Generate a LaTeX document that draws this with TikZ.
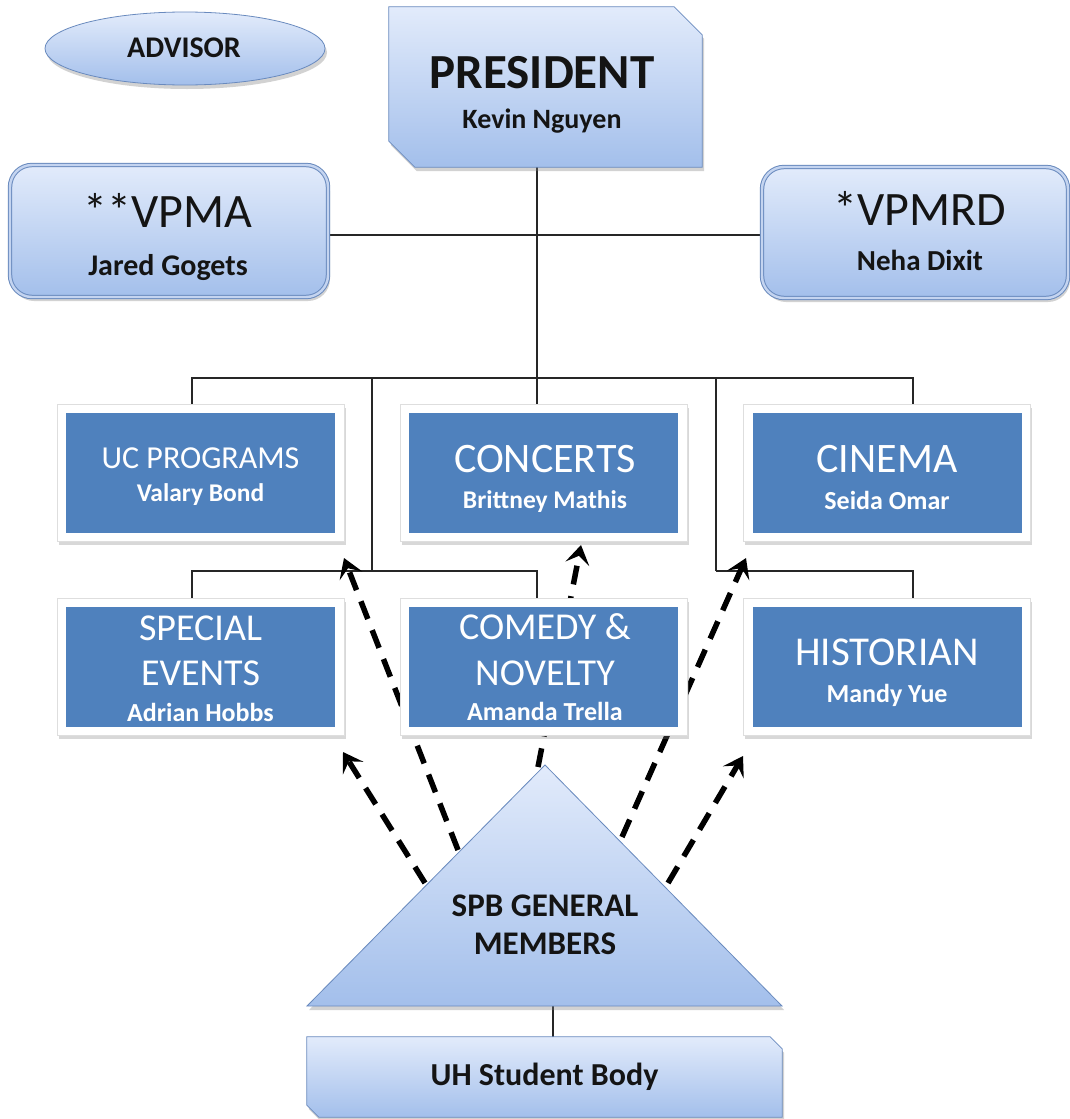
\documentclass[tikz,border=0pt]{standalone}
\usepackage{fontspec}
\setmainfont{Carlito}
\usetikzlibrary{shapes.geometric,shadows,arrows.meta}
\pgfdeclarelayer{bgfill}
\pgfdeclarelayer{lines}
\pgfsetlayers{bgfill,lines,main}
\newcommand\myfs[1]{\fontsize{#1}{#1}\selectfont}
\definecolor{edgeblue}{RGB}{105,138,190}
\definecolor{lighttop}{RGB}{226,235,251}
\definecolor{lightbot}{RGB}{163,191,235}
\definecolor{boxblue}{RGB}{79,129,189}
\definecolor{darktext}{RGB}{20,20,20}
\definecolor{framegray}{RGB}{222,222,222}
\definecolor{dblblue}{RGB}{196,212,240}
\begin{document}
\begin{tikzpicture}[x=1pt,y=-1pt,
  lightfill/.style={draw=edgeblue, line width=0.8pt, top color=lighttop, bottom color=lightbot,
    drop shadow={shadow xshift=2pt,shadow yshift=-4pt,opacity=0.35}},
  vpbox/.style={rectangle, rounded corners=22pt, draw=edgeblue, line width=1pt, double=dblblue, double distance=2.4pt,
    top color=lighttop, bottom color=lightbot, inner sep=0pt,
    drop shadow={shadow xshift=2pt,shadow yshift=-4pt,opacity=0.35}},
  ghost/.style={rectangle, inner sep=0pt},
  frame/.style={rectangle, fill=white, draw=framegray, line width=0.6pt, inner sep=0pt,
    minimum width=287pt, minimum height=137pt,
    drop shadow={shadow xshift=1.5pt,shadow yshift=-3pt,opacity=0.3}},
  bluebox/.style={rectangle, fill=boxblue, inner sep=0pt, minimum width=269pt, minimum height=120pt},
  dtxt/.style={anchor=base, inner sep=0pt, text=darktext},
  wtxt/.style={anchor=base, inner sep=0pt, text=white},
  conn/.style={draw=black!85, line width=1.1pt},
  darrow/.style={line width=5.5pt, dash pattern=on 19pt off 12pt,
    -{Stealth[length=19pt,width=24pt,inset=8pt]}},
]
\begin{pgfonlayer}{bgfill}
\fill[white] (0,0) rectangle (1070,1119);
\end{pgfonlayer}
\useasboundingbox (0,0) rectangle (1070,1119);

% ADVISOR
\node[ellipse, draw=edgeblue, line width=0.8pt, top color=lighttop, bottom color=lightbot,
  minimum width=280pt, minimum height=73pt, inner sep=0pt,
  drop shadow={shadow xshift=2pt,shadow yshift=-4pt,opacity=0.35}] (adv) at (185,48.5) {};
\node[dtxt, font=\myfs{30}\bfseries] (advT) at (184,57) {ADVISOR};

% PRESIDENT
\node[ghost, minimum width=313pt, minimum height=160pt] (pres) at (545.5,87) {};
\path[lightfill] (pres.north west) -- ([xshift=-28pt]pres.north east) -- ([yshift=-28pt]pres.north east)
  -- (pres.south east) -- ([xshift=26pt]pres.south west) -- ([yshift=26pt]pres.south west) -- cycle;
\node[dtxt, font=\myfs{49}\bfseries] (presT) at (542,88) {PRESIDENT};
\node[dtxt, font=\myfs{28}\bfseries] (presN) at (542,128) {Kevin Nguyen};

% VPs
\node[vpbox, minimum width=318pt, minimum height=132pt] (vpma) at (169,231) {};
\node[dtxt, font=\myfs{48}] (vpmaT) at (168,227) {**VPMA};
\node[dtxt, font=\myfs{30}\bfseries] (vpmaN) at (168,275) {Jared Gogets};
\node[vpbox, minimum width=306pt, minimum height=131pt] (vpmrd) at (915,232.5) {};
\node[dtxt, font=\myfs{48}] (vpmrdT) at (920,225) {*VPMRD};
\node[dtxt, font=\myfs{29}\bfseries] (vpmrdN) at (920,270) {Neha Dixit};

% Committee boxes
\node[frame] (ucp) at (200.5,473) {};
\node[bluebox] (ucpIn) at (ucp.center) {};
\node[wtxt, font=\myfs{32}] (ucpT) at (200.5,468) {UC PROGRAMS};
\node[wtxt, font=\myfs{25.5}\bfseries] (ucpN) at (200.5,501) {Valary Bond};

\node[frame] (conc) at (543.5,473) {};
\node[bluebox] (concIn) at (conc.center) {};
\node[wtxt, font=\myfs{42}] (concT) at (545,472) {CONCERTS};
\node[wtxt, font=\myfs{25.5}\bfseries] (concN) at (545,508) {Brittney Mathis};

\node[frame] (cin) at (887,473) {};
\node[bluebox] (cinIn) at (cin.center) {};
\node[wtxt, font=\myfs{42}] (cinT) at (887,472) {CINEMA};
\node[wtxt, font=\myfs{26}\bfseries] (cinN) at (887,509) {Seida Omar};

\node[frame] (spe) at (200.5,667) {};
\node[bluebox] (speIn) at (spe.center) {};
\node[wtxt, font=\myfs{38}] (speT1) at (200.5,640) {SPECIAL};
\node[wtxt, font=\myfs{38}] (speT2) at (200.5,685) {EVENTS};
\node[wtxt, font=\myfs{26}\bfseries] (speN) at (200.5,721) {Adrian Hobbs};

\node[frame] (com) at (543.5,667) {};
\node[bluebox] (comIn) at (com.center) {};
\node[wtxt, font=\myfs{38}] (comT1) at (545,639) {COMEDY \&};
\node[wtxt, font=\myfs{38}] (comT2) at (545,685) {NOVELTY};
\node[wtxt, font=\myfs{26}\bfseries] (comN) at (545,720) {Amanda Trella};

\node[frame] (his) at (887,667) {};
\node[bluebox] (hisIn) at (his.center) {};
\node[wtxt, font=\myfs{41}] (hisT) at (887,665) {HISTORIAN};
\node[wtxt, font=\myfs{26}\bfseries] (hisN) at (887,702) {Mandy Yue};

% SPB triangle
\coordinate (triTop) at (545,765);
\coordinate (triL) at (307,1006);
\coordinate (triR) at (782,1006);
\coordinate (triB) at (553,1006);
\path[lightfill] (triTop) -- (triR) -- (triL) -- cycle;
\node[dtxt, font=\myfs{33}\bfseries] (spbT1) at (545,916) {SPB GENERAL};
\node[dtxt, font=\myfs{33}\bfseries] (spbT2) at (545,954) {MEMBERS};

% UH Student Body
\node[ghost, minimum width=475pt, minimum height=80pt] (uh) at (544.5,1077) {};
\path[lightfill] (uh.north west) -- ([xshift=-12pt]uh.north east) -- ([yshift=-12pt]uh.north east)
  -- (uh.south east) -- ([xshift=12pt]uh.south west) -- ([yshift=12pt]uh.south west) -- cycle;
\node[dtxt, font=\myfs{32}\bfseries] (uhT) at (544.5,1085) {UH Student Body};

% junction coordinates
\coordinate (busL) at (192,378);
\coordinate (busM1) at (372,378);
\coordinate (busM2) at (716,378);
\coordinate (busR) at (913,378);
\coordinate (rowL) at (192,571);
\coordinate (rowM1) at (372,571);
\coordinate (rowC) at (537,571);
\coordinate (rowM2) at (716,571);
\coordinate (rowR) at (913,571);
\coordinate (vpL) at (328,235);
\coordinate (vpR) at (763,235);

% arrow end points
\coordinate (a1s) at (425,883); \coordinate (a1e) at (343,752);
\coordinate (a2s) at (458,850); \coordinate (a2e) at (344,558);
\coordinate (a3s) at (538,767); \coordinate (a3e) at (581,545);
\coordinate (a4s) at (622,837); \coordinate (a4e) at (746,558);
\coordinate (a5s) at (668,883); \coordinate (a5e) at (743,756);

\begin{pgfonlayer}{lines}
\draw[conn] ([xshift=-8.5pt]pres.south) -- ([xshift=-6.5pt]conc.north);
\draw[conn] (vpL) -- (vpR);
\draw[conn] (ucp.north -| busL) -- (busL) -- (busR) -- (cin.north -| busR);
\draw[conn] (busM1) -- (rowM1);
\draw[conn] (busM2) -- (rowM2);
\draw[conn] (spe.north -| rowL) -- (rowL) -- (rowC) -- (com.north -| rowC);
\draw[conn] (rowM2) -- (rowR) -- (his.north -| rowR);
\draw[conn] (triB) -- (uh.north -| triB);
\draw[darrow] (a1s) -- (a1e);
\draw[darrow] (a2s) -- (a2e);
\draw[darrow] (a3s) -- (a3e);
\draw[darrow] (a4s) -- (a4e);
\draw[darrow] (a5s) -- (a5e);
\end{pgfonlayer}
\end{tikzpicture}
\end{document}
